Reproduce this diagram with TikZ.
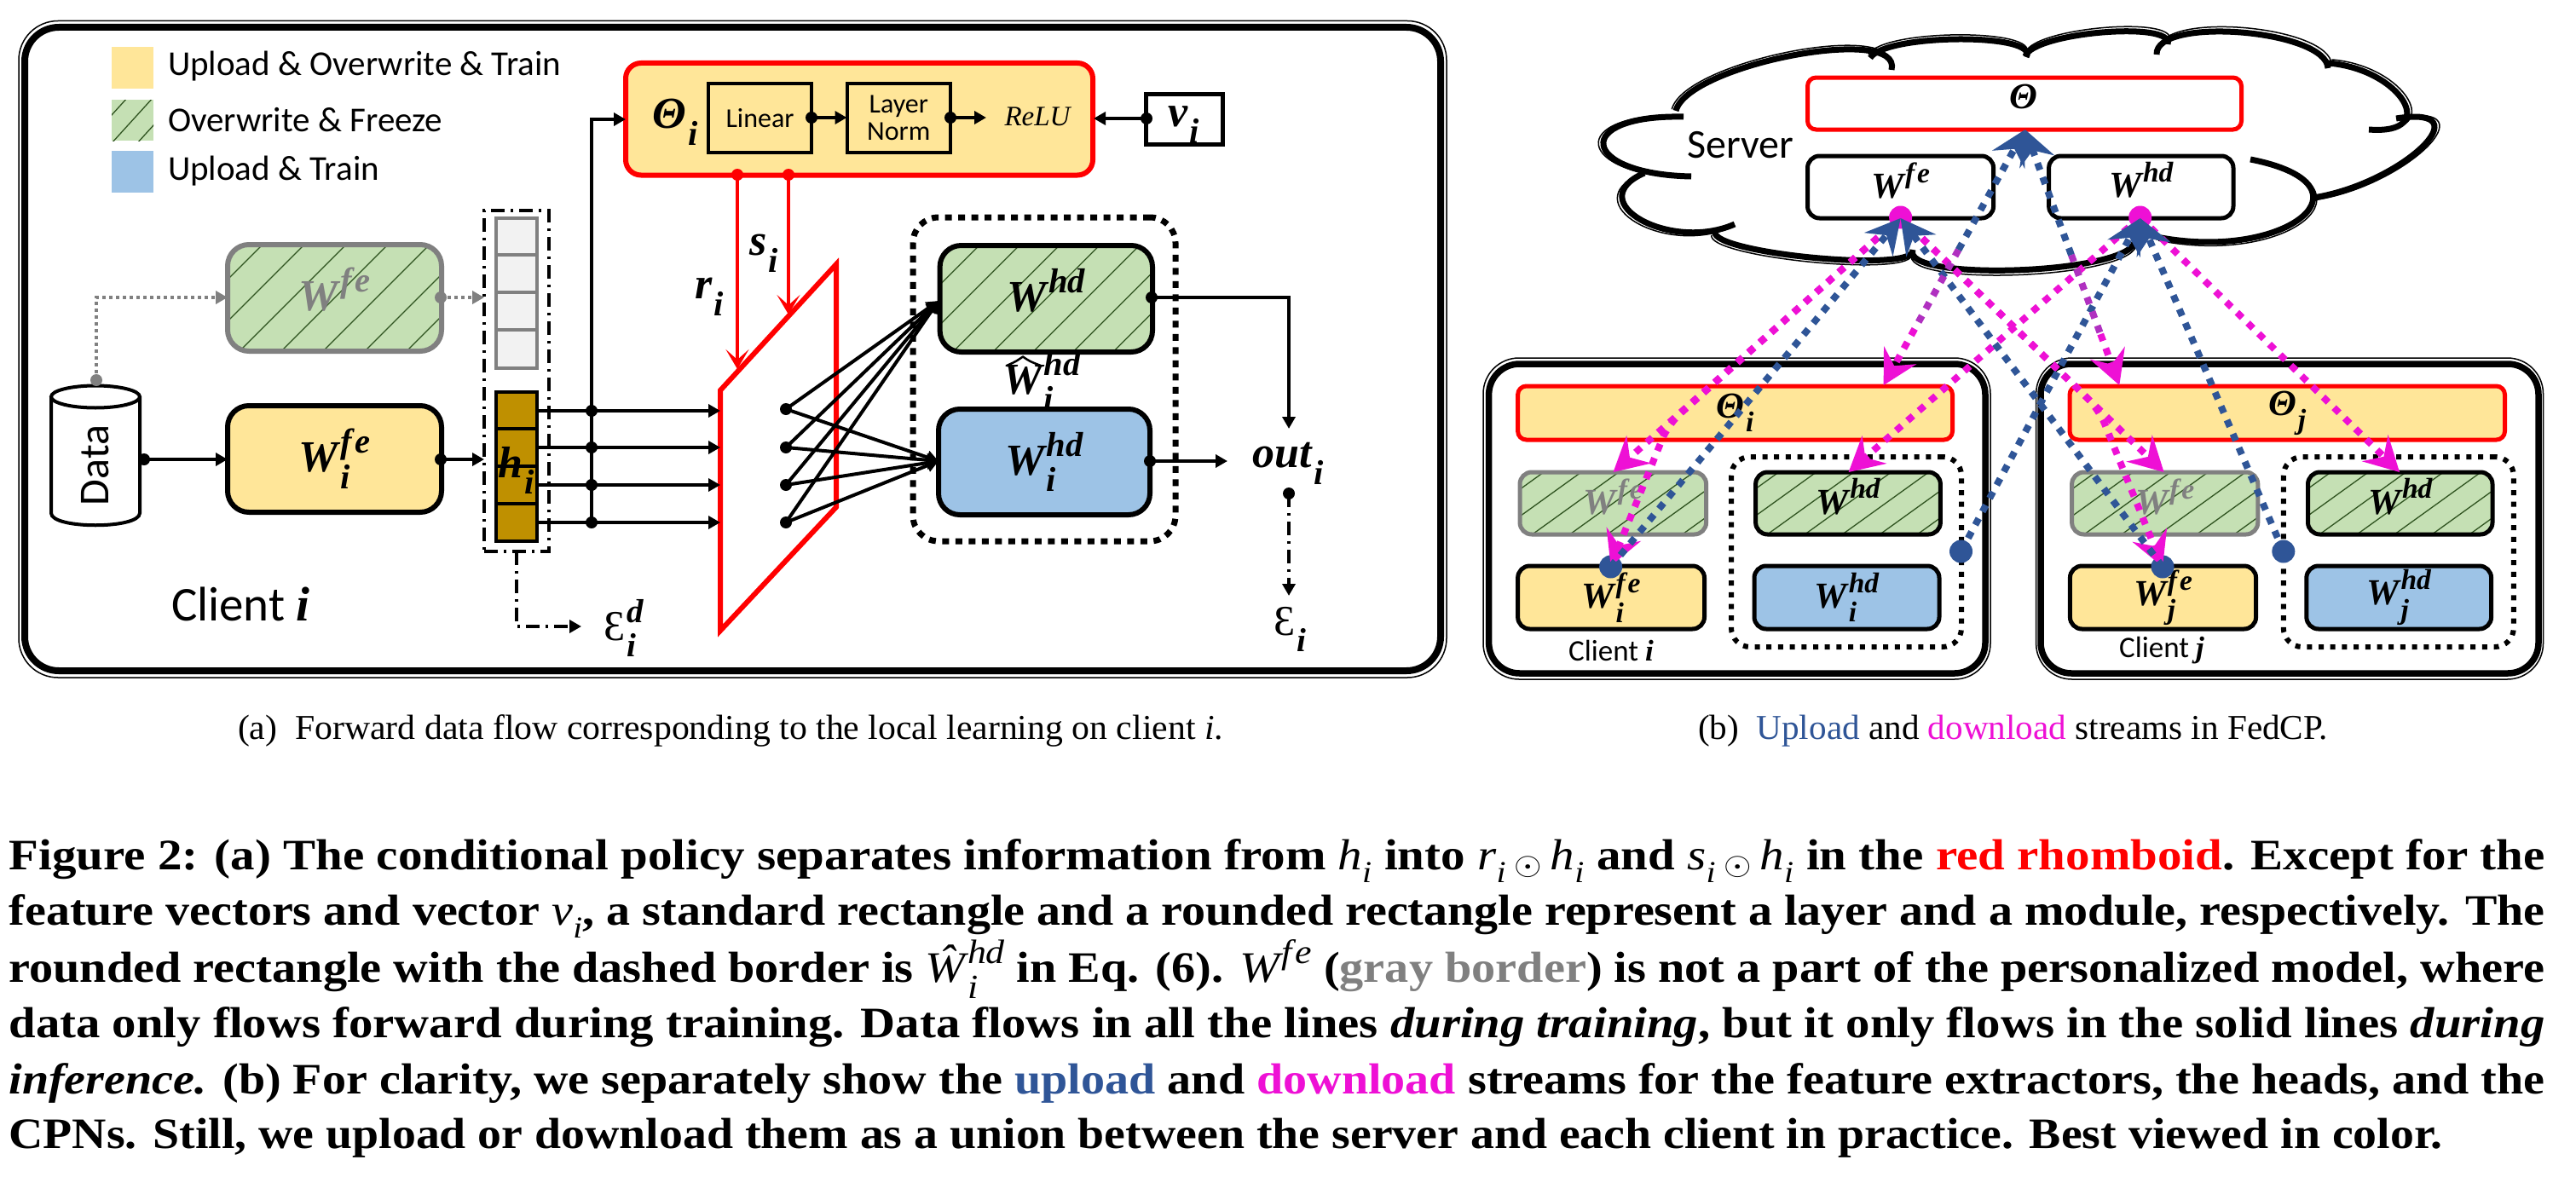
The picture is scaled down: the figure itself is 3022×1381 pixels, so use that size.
\documentclass[tikz,border=0pt]{standalone}
\usepackage{fontspec}
\usepackage{graphicx}
\setmainfont{Liberation Serif}
\setsansfont{Carlito}
\usetikzlibrary{arrows.meta,calc}
\definecolor{yel}{HTML}{FFE699}
\definecolor{grn}{HTML}{C5E0B4}
\definecolor{blu}{HTML}{9DC3E6}
\definecolor{hatchc}{HTML}{2F5320}
\definecolor{brn}{HTML}{BF9000}
\definecolor{cell}{HTML}{F2F2F2}
\definecolor{gry}{HTML}{808080}
\definecolor{upc}{HTML}{2F5597}
\definecolor{dnc}{HTML}{EE10D5}
\definecolor{mixc}{HTML}{B030C0}
\newcommand\fs[1]{\fontsize{#1}{#1}\selectfont}
\newcommand\WS[3]{\mbox{#1\kern.04em\setbox0=\hbox{\raisebox{.42em}{\scalebox{.78}{#2}}}\setbox2=\hbox{\raisebox{-.38em}{\scalebox{.78}{#3}}}\ifdim\wd0>\wd2 \rlap{\box2}\box0\else\rlap{\box0}\box2\fi}}
\newcommand\mi[2]{\mbox{\mdseries\textit{#1}\textsubscript{\textit{#2}}}}
\newcommand\fe{f\kern.09em e}
\newcommand\odt{\,\raisebox{-.12em}{\scalebox{1.5}{$\odot$}}\,}
\newcommand\fitw[2]{\resizebox{#1pt}{\height}{#2}}
\newcommand\bx[7]{\pgfmathsetmacro\cx{(#3+#5)/2}\pgfmathsetmacro\cy{(#4+#6)/2}\pgfmathsetmacro\ww{#5-#3}\pgfmathsetmacro\hh{#6-#4}\node[#1,minimum width=\ww pt,minimum height=\hh pt] (#2) at (\cx,\cy) {#7};}
\newcommand\lobes[1]{\foreach \xa/\ya/\xm/\ym/\xb/\yb in {
1984/207/1881/170/1975/137,
1966/130/2103/65/2219/82,
2194/68/2298/46/2377/67,
2376/66/2466/38/2543/52,
2530/64/2629/38/2731/80,
2731/74/2819/118/2779/152,
2811/139/2841/173/2714/232,
2640/187/2700/255/2530/278,
2504/285/2363/317/2244/293,
2244/295/2124/302/2012/272,
2035/263/1925/258/1929/203}{\pgfmathsetmacro\ddx{4/3*(\xm-(\xa+\xb)/2)}\pgfmathsetmacro\ddy{4/3*(\ym-(\ya+\yb)/2)}\draw[#1] (\xa,\ya) .. controls ({\xa+\ddx},{\ya+\ddy}) and ({\xb+\ddx},{\yb+\ddy}) .. (\xb,\yb);}}
\tikzset{
 every node/.style={inner sep=0pt,outer sep=0pt},
 sbox/.style={draw,rectangle},
 rbox/.style={draw,rectangle,rounded corners=25pt,line width=6pt},
 sm/.style={rectangle,draw,rounded corners=14pt,line width=5pt},
 hatchbox/.style 2 args={path picture={\foreach \k in {-14,...,14}{\draw[hatchc,line width=1.3pt] ($(path picture bounding box.center)+(\k*#1,0)+(-300,300*#2)$) -- ++(600,-600*#2);}}},
 mb/.style={font=\rmfamily\bfseries\itshape\fs{52}},
 mc/.style={font=\rmfamily\bfseries\itshape\fs{43}},
 sl/.style={font=\sffamily\fs{41}},
 dotb/.style={circle,fill=black,minimum size=14pt},
 dotg/.style={circle,fill=gry,minimum size=14pt},
 dotr/.style={circle,fill=red,minimum size=14pt},
 dotm/.style={circle,fill=dnc,minimum size=27pt},
 dotu/.style={circle,fill=upc,minimum size=27pt},
 tri/.style={line width=4pt,-{Triangle[length=14pt,width=15pt]}},
 trig/.style={gry,line width=4pt,dash pattern=on 4pt off 4pt,-{Triangle[length=14pt,width=15pt]}},
 redarr/.style={red,line width=3.5pt,-{Stealth[length=23pt,width=27pt,inset=12pt]}},
 dashdot/.style={line width=3.5pt,dash pattern=on 16pt off 7pt on 3pt off 7pt},
 dotbox/.style={rectangle,draw,line width=7pt,dash pattern=on 8pt off 7.5pt},
 dl/.style={dnc,line width=8pt,dash pattern=on 8.5pt off 9.2pt,-{Stealth[length=40pt,width=43pt,inset=14pt]}},
 ul/.style={upc,line width=8pt,dash pattern=on 8.5pt off 9.2pt,-{Stealth[length=40pt,width=43pt,inset=14pt]}},
 mixline/.style={mixc,line width=8pt,dash pattern=on 8.5pt off 9.2pt},
 capt/.style={anchor=base west,font=\rmfamily\fs{41}},
 figl/.style={anchor=base west,font=\rmfamily\bfseries\fs{51}},
}
\begin{document}
\begin{tikzpicture}[x=1pt,y=-1pt,line width=3.5pt]
\useasboundingbox (0,0) rectangle (3022,1381);
\fill[white] (0,0) rectangle (3022,1381);

% ---------- panel (a) frame
\bx{rectangle,draw,rounded corners=46pt,line width=1.5pt}{aouter}{22}{24.5}{1697}{795}{}
\bx{rectangle,draw,rounded corners=40pt,line width=8pt}{ainner}{29}{32}{1690}{787}{}

% legend
\bx{rectangle,fill=yel}{lg1}{131}{55}{180}{104}{}
\bx{rectangle,fill=grn,hatchbox={30}{1.1}}{lg2}{131}{117}{180}{165}{}
\bx{rectangle,fill=blu}{lg3}{131}{177}{180}{226}{}
\node[sl,anchor=west] (lt1) at (197,78) {Upload \& Overwrite \& Train};
\node[sl,anchor=west] (lt2) at (197,141) {Overwrite \& Freeze};
\node[sl,anchor=west] (lt3) at (197,201) {Upload \& Train};

% data cylinder
\draw[line width=4pt,fill=white] (60,466) -- (60,602) .. controls (60,621) and (164,621) .. (164,602) -- (164,466);
\draw[line width=4pt,fill=white] (112,465.5) ellipse [x radius=52,y radius=13];
\node[font=\sffamily\fs{50},rotate=90] (data) at (112,546) {Data};
\node[dotb] (ddot) at (169,539) {};
\node[dotg] (gdot) at (113,446) {};

% feature extractors
\bx{rbox,draw=gry,fill=grn,hatchbox={49}{1},mb,text=gry}{wfea}{267}{287}{518}{412}{\WS{W}{\fe}{}}
\bx{rbox,fill=yel,mb}{wifea}{267}{476}{518}{601}{\WS{W}{\fe}{i}}
\node[dotg] (wfedot) at (517,349) {};
\node[dotb] (wifedot) at (517,539) {};

% feature vector
\bx{rectangle,draw,dashdot}{vecf}{568}{247}{644}{647}{}
\bx{sbox,draw=gry,fill=cell,line width=4pt}{g1}{582}{256}{630}{299}{}
\bx{sbox,draw=gry,fill=cell,line width=4pt}{g2}{582}{299}{630}{343}{}
\bx{sbox,draw=gry,fill=cell,line width=4pt}{g3}{582}{343}{630}{387}{}
\bx{sbox,draw=gry,fill=cell,line width=4pt}{g4}{582}{387}{630}{432}{}
\bx{sbox,fill=brn,line width=4pt}{b1}{582}{460}{630}{503}{}
\bx{sbox,fill=brn,line width=4pt}{b2}{582}{503}{630}{547}{}
\bx{sbox,fill=brn,line width=4pt}{b3}{582}{547}{630}{591}{}
\bx{sbox,fill=brn,line width=4pt}{b4}{582}{591}{630}{635}{}
\node[mb] (hi) at (606,552) {\WS{h}{}{i}};

\coordinate (gel) at (113,349);
\coordinate (wfeain) at (267,349);
\coordinate (vecg) at (568,349);
\coordinate (veci) at (568,539);
\coordinate (wifeain) at (267,539);
\draw[trig] (gdot.center) -- (gel) -- (wfeain);
\draw[trig] (wfedot.center) -- (vecg);
\draw[tri] (ddot.center) -- (wifeain);
\draw[tri] (wifedot.center) -- (veci);

% Theta_i module
\bx{rectangle,draw=red,fill=yel,rounded corners=18pt,line width=6pt}{ti}{734}{74}{1282}{205.5}{}
\node[mb] (tit) at (792,143) {\WS{Θ}{}{i}};
\bx{sbox,line width=4pt,font=\sffamily\fs{32}}{lin}{831}{98}{952}{179}{Linear}
\bx{sbox,line width=4pt,font=\sffamily\fs{32},align=center}{ln}{993.5}{98}{1115}{179}{\fontsize{32}{34}\selectfont Layer\\Norm}
\node[font=\rmfamily\itshape\fs{33}] (relu) at (1217,137) {ReLU};
\node[dotb] (lind) at (952,138) {};
\node[dotb] (lnd) at (1115,138) {};
\coordinate (lnin) at (993.5,138);
\coordinate (reluin) at (1157,138);
\draw[tri] (lind.center) -- (lnin);
\draw[tri] (lnd.center) -- (reluin);
\bx{sbox,line width=5pt,fill=white}{vi}{1344}{110}{1434}{169}{}
\node[mb] (vit) at (1389,146) {\WS{v}{}{i}};
\node[dotb] (vid) at (1345,139) {};
\coordinate (tiin) at (1283,139);
\draw[tri] (vid.center) -- (tiin);

% rhomboid
\draw[red,line width=6pt,miter limit=10] (845,458) coordinate (rtl) -- (981,310) coordinate (rtr) -- (981,595) coordinate (rbr) -- (845,740) coordinate (rbl) -- cycle;

% vector to rhomboid
\foreach \n/\y in {1/482,2/525,3/569,4/613}{
  \coordinate (vs\n) at (630,\y);
  \coordinate (ve\n) at (845,\y);
  \draw[tri] (vs\n) -- (ve\n);
  \node[dotb] (jd\n) at (694,\y) {};
}
\coordinate (tiel) at (694,140);
\coordinate (tiarr) at (734,140);
\draw[tri] (jd4.center) -- (tiel) -- (tiarr);

% r, s arrows
\node[dotr] (rd) at (865,205) {};
\node[dotr] (sd) at (925,205) {};
\coordinate (rtip) at (865,433);
\coordinate (stip) at (925,369);
\draw[redarr] (rd.center) -- (rtip);
\draw[redarr] (sd.center) -- (stip);
\node[mb] (rl) at (832,348) {\WS{r}{}{i}};
\node[mb] (sl) at (896,297) {\WS{s}{}{i}};

% heads
\bx{dotbox,rounded corners=30pt}{dbx}{1071}{255}{1379}{635}{}
\bx{rbox,fill=grn,hatchbox={47}{1},mb}{whd}{1102.6}{288}{1352}{413}{\WS{W}{hd}{}}
\bx{rbox,fill=blu,mb}{wihd}{1101}{480}{1349}{604}{\WS{W}{hd}{i}}
\node[mb] (what) at (1222,447) {\WS{W}{hd}{i}};
\draw[line width=2.5pt,line join=round] (1181,429) .. controls (1192,424) .. (1200,418.5) .. controls (1208,424) .. (1221,429);
\coordinate (ht1) at (1101,353);
\coordinate (ht2) at (1101,541);
\foreach \n/\y in {1/480,2/525,3/569,4/613}{
  \node[dotb] (m\n) at (922,\y) {};
  \draw[tri] (m\n.center) -- (ht1);
  \draw[tri] (m\n.center) -- (ht2);
}
\node[dotb] (whdd) at (1351,349) {};
\node[dotb] (wihdd) at (1349,541) {};
\node[mb] (out) at (1511,544) {\WS{out}{}{i}};
\coordinate (oel) at (1512,349);
\coordinate (ot1) at (1512,503);
\coordinate (ot2) at (1440,541);
\draw[tri] (whdd.center) -- (oel) -- (ot1);
\draw[tri] (wihdd.center) -- (ot2);
\node[dotb] (outd) at (1512,579) {};
\coordinate (et) at (1512,699);
\draw[dashdot,-{Triangle[length=14pt,width=15pt]}] (outd.center) -- (et);
\node[font=\rmfamily\fs{50}] (eps) at (1513,738) {\WS{Ɛ}{}{\bfseries\itshape i}};
\coordinate (vb) at (606,647);
\coordinate (vbel) at (606,735);
\coordinate (vbt) at (682,735);
\draw[dashdot,-{Triangle[length=14pt,width=15pt]}] (vb) -- (vbel) -- (vbt);
\node[font=\rmfamily\fs{50}] (epsd) at (732,737) {\WS{Ɛ}{\bfseries\itshape d}{\bfseries\itshape i}};
\node[font=\sffamily\fs{57},anchor=west] (cli) at (201,709) {Client \textbf{\textit{\rmfamily i}}};

% ---------- panel (b)
\lobes{line width=7pt}
\begin{scope}[shift={(2360,175)},xscale=1.012,yscale=1.04,shift={(-2360,-175)}]
\lobes{line width=1.5pt}
\end{scope}
\node[font=\sffamily\fs{48}] (srv) at (2042,170) {Server};
\bx{rectangle,draw=red,fill=white,rounded corners=10pt,line width=5pt,mc}{st}{2120.5}{91}{2629.5}{152}{\WS{Θ}{}{}}
\bx{sm,fill=white,mc}{sfeb}{2120.5}{183}{2338.6}{256}{\WS{W}{\fe}{}}
\bx{sm,fill=white,mc}{shdb}{2403.6}{183}{2620}{256}{\WS{W}{hd}{}}

% client i
\bx{rectangle,draw,rounded corners=42pt,line width=1.5pt}{ciout}{1740}{420}{2335}{797}{}
\bx{rectangle,draw,rounded corners=36pt,line width=7.5pt}{ciin}{1746.6}{427}{2329}{790}{}
\bx{rectangle,draw=red,fill=yel,rounded corners=10pt,line width=5pt,mc}{ti2}{1780.6}{453}{2290.5}{516}{\WS{Θ}{}{i}}
\bx{dotbox,line width=6pt,dash pattern=on 6pt off 7.7pt,rounded corners=22pt}{dbi}{2031}{536}{2301}{759}{}
\bx{sm,draw=gry,fill=grn,hatchbox={44}{.72},mc,text=gry}{gi}{1783}{554}{2001.6}{627}{\WS{W}{\fe}{}}
\bx{sm,fill=grn,hatchbox={44}{.72},mc}{hi2}{2059.6}{554}{2276.4}{627}{\WS{W}{hd}{}}
\bx{sm,fill=yel,mc}{fi}{1780.6}{664}{1999.5}{738}{\WS{W}{\fe}{i}}
\bx{sm,fill=blu,mc}{hi3}{2058}{664}{2275}{738}{\WS{W}{hd}{i}}
\node[font=\sffamily\fs{35}] (cil) at (1890,763) {Client \textbf{\textit{\rmfamily i}}};

% client j
\bx{rectangle,draw,rounded corners=42pt,line width=1.5pt}{cjout}{2388.6}{420}{2983.5}{797}{}
\bx{rectangle,draw,rounded corners=36pt,line width=7.5pt}{cjin}{2394}{427}{2978}{790}{}
\bx{rectangle,draw=red,fill=yel,rounded corners=10pt,line width=5pt,mc}{tj}{2428}{453}{2938.5}{516}{\WS{Θ}{}{j}}
\bx{dotbox,line width=6pt,dash pattern=on 6pt off 7.7pt,rounded corners=22pt}{dbj}{2678.8}{536}{2948.8}{759}{}
\bx{sm,draw=gry,fill=grn,hatchbox={44}{.72},mc,text=gry}{gj}{2430.6}{554}{2648.8}{627}{\WS{W}{\fe}{}}
\bx{sm,fill=grn,hatchbox={44}{.72},mc}{hj}{2707.5}{554}{2924}{627}{\WS{W}{hd}{}}
\bx{sm,fill=yel,mc}{fj}{2428.4}{664}{2646.6}{738}{\WS{W}{\fe}{j}}
\bx{sm,fill=blu,mc}{hj3}{2705.8}{664}{2922.6}{738}{\WS{W}{hd}{j}}
\node[font=\sffamily\fs{35}] (cjl) at (2536,763) {Client \textbf{\textit{\rmfamily j}}};

% stream dots
\node[dotm] (mfe) at (2229.6,255) {};
\node[dotm] (mhd) at (2510.7,255) {};
\node[dotu] (ufi) at (1889.6,665) {};
\node[dotu] (uhi) at (2300.5,647) {};
\node[dotu] (ufj) at (2537,665) {};
\node[dotu] (uhj) at (2678.8,647) {};
\coordinate (tfe) at (2229.6,256);
\coordinate (thd) at (2510.7,256);
\coordinate (tth) at (2375.7,152);
\coordinate (tti) at (2209.6,452);
\coordinate (ttj) at (2486.3,452);
\coordinate (tgi) at (1892.5,554);
\coordinate (bgi) at (1957,498);
\coordinate (tfi) at (1889.6,664);
\coordinate (tgj) at (2538.6,554);
\coordinate (bgj) at (2462,480);
\coordinate (tfj) at (2537,665);
\coordinate (thi) at (2168.6,554);
\coordinate (thj) at (2815,554);

% download streams
\draw[dl] (mfe.center) -- (tgi);
\draw[dl,rounded corners=18pt] (mfe.center) -- (bgi) -- (tfi);
\draw[dl] (mfe.center) -- (tgj);
\draw[dl,rounded corners=18pt] (mfe.center) -- (bgj) -- (tfj);
\draw[dl] (mhd.center) -- (thi);
\draw[dl] (mhd.center) -- (thj);
% upload streams
\draw[ul] (ufi.center) -- (tfe);
\draw[ul] (ufj.center) -- (tfe);
\draw[ul] (uhi.center) -- (thd);
\draw[ul] (uhj.center) -- (thd);
% CPN streams (both directions overlap)
\coordinate (li1) at ($(tth)!.47!(tti)$);
\coordinate (li2) at ($(tth)!.78!(tti)$);
\coordinate (lj1) at ($(tth)!.49!(ttj)$);
\coordinate (lj2) at ($(tth)!.80!(ttj)$);
\draw[dl] (li2) -- (tti);
\draw[mixline] (li1) -- (li2);
\draw[ul] (li1) -- (tth);
\draw[dl] (lj2) -- (ttj);
\draw[mixline] (lj1) -- (lj2);
\draw[ul] (lj1) -- (tth);

% ---------- captions
\node[capt] (capa) at (279,867) {\fitw{1156}{(a)\ \ Forward data flow corresponding to the local learning on client \textit{i}.}};
\node[capt] (capb) at (1992,867) {\fitw{739}{(b)\ \ \textcolor{upc}{Upload} and \textcolor{dnc}{download} streams in FedCP.}};
\node[figl] (f1) at (10.5,1020) {\fitw{2975}{Figure 2: (a) The conditional policy separates information from \mi{h}{i} into \mi{r}{i}\odt\mi{h}{i} and \mi{s}{i}\odt\mi{h}{i} in the \textcolor{red}{red rhomboid}. Except for the}};
\node[figl] (f2) at (10.5,1085) {\fitw{2975}{feature vectors and vector \mi{v}{i}, a standard rectangle and a rounded rectangle represent a layer and a module, respectively. The}};
\node[figl] (f3) at (10.5,1152) {\fitw{2975}{rounded rectangle with the dashed border is {\mdseries\itshape\WS{Ŵ}{hd}{i}} in Eq. (6). {\mdseries\itshape\WS{W}{\fe}{}} (\textcolor{gry}{gray border}) is not a part of the personalized model, where}};
\node[figl] (f4) at (10.5,1217) {\fitw{2975}{data only flows forward during training. Data flows in all the lines \textit{during training}, but it only flows in the solid lines \textit{during}}};
\node[figl] (f5) at (10.5,1283) {\fitw{2975}{\textit{inference.} (b) For clarity, we separately show the \textcolor{upc}{upload} and \textcolor{dnc}{download} streams for the feature extractors, the heads, and the}};
\node[figl] (f6) at (10.5,1347) {\fitw{2855}{CPNs. Still, we upload or download them as a union between the server and each client in practice. Best viewed in color.}};
\end{tikzpicture}
\end{document}
